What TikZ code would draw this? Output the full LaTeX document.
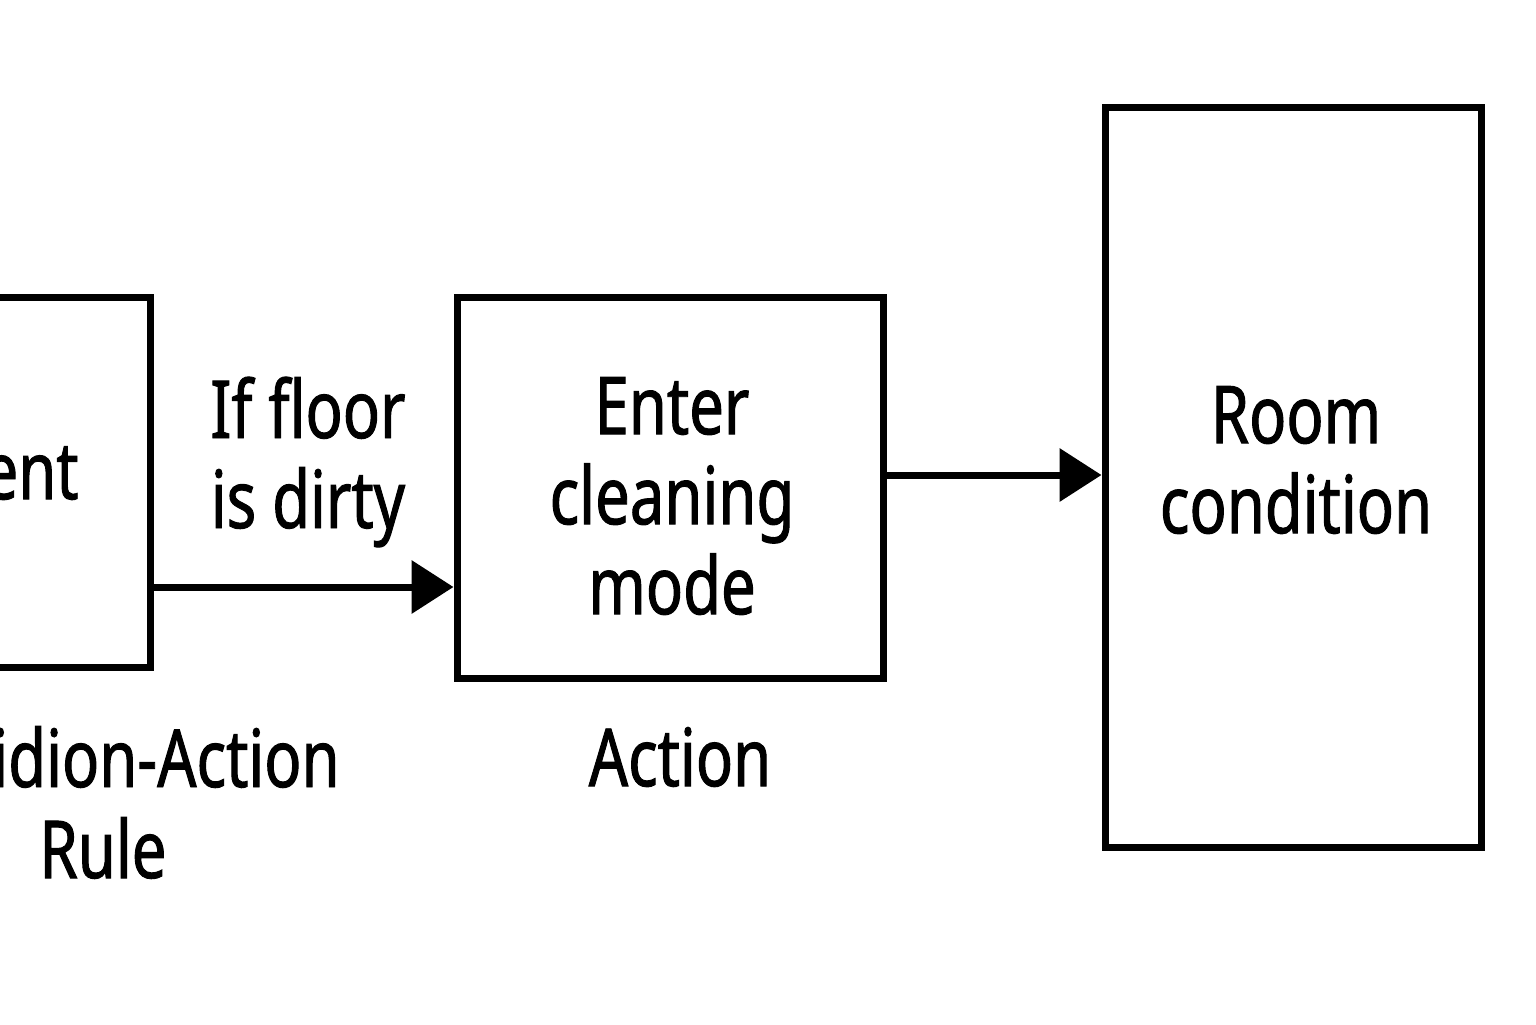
\documentclass[tikz,border=0pt]{standalone}
\usepackage{fontspec}
\setmainfont[FakeStretch=0.77,FakeBold=1.2]{Noto Sans}
\usetikzlibrary{arrows.meta,calc}
\begin{document}
\begin{tikzpicture}[x=0.5pt,y=-0.5pt,
  blk/.style={draw=black,line width=3.5pt,inner sep=0pt,fill=none},
  lbl/.style={align=center,font=\fontsize{40}{45}\selectfont,inner sep=0pt},
  arr/.style={line width=3.5pt,-{Triangle[length=21pt,width=26pt]}}]
\path[use as bounding box,fill=white] (0,0) rectangle (1536,1024);
\node[blk,minimum width=200pt,minimum height=185pt] (agent) at (-50,482) {};
\node[blk,minimum width=213pt,minimum height=190.5pt] (enter) at (670,487.5) {};
\node[blk,minimum width=188pt,minimum height=370pt] (room) at (1293,477) {};
\node[lbl,anchor=east] (agentt) at (79,480) {Agent};
\node[lbl] (cond) at (308,462) {If floor\\is dirty};
\node[lbl] (entert) at (672,496) {Enter\\cleaning\\mode};
\node[lbl] (roomt) at (1296,460) {Room\\condition};
\node[lbl] (actt) at (680,757) {Action};
\node[lbl,anchor=east] (condt) at (340,757) {Condidion-Action};
\node[lbl] (rulet) at (103,848) {Rule};
\draw[arr] (agent.east |- 0,587) -- (enter.west |- 0,587);
\draw[arr] (enter.east |- 0,475) -- (room.west |- 0,475);
\end{tikzpicture}
\end{document}
